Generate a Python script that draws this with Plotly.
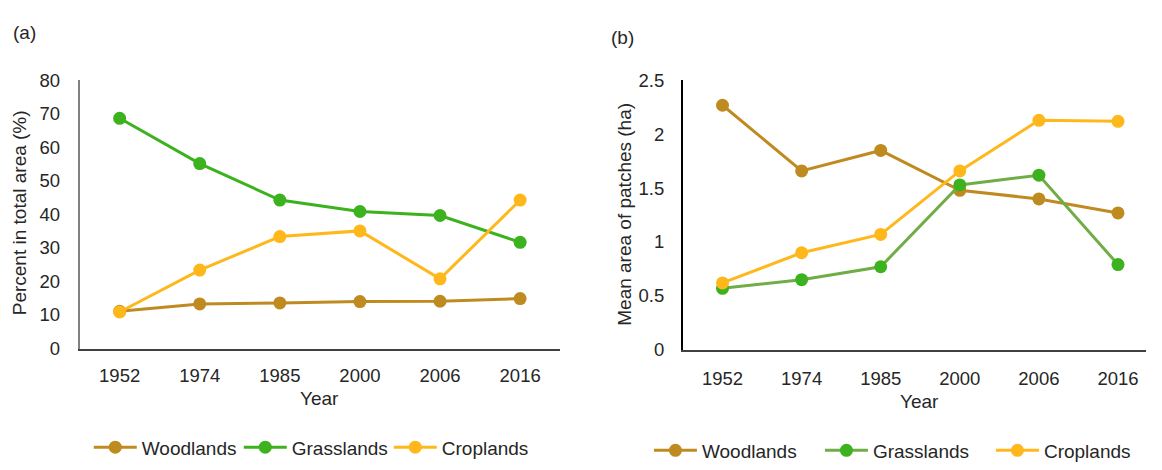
import plotly.graph_objects as go

years = ["1952", "1974", "1985", "2000", "2006", "2016"]

# Panel (a): percent in total area (%)
wood_pct = [11.1, 13.3, 13.6, 14.0, 14.1, 14.9]
grass_pct = [68.7, 55.2, 44.3, 40.9, 39.7, 31.7]
crop_pct = [10.9, 23.4, 33.4, 35.1, 20.8, 44.3]

# Panel (b): mean area of patches (ha)
wood_area = [2.27, 1.66, 1.85, 1.48, 1.40, 1.27]
grass_area = [0.57, 0.65, 0.77, 1.53, 1.62, 0.79]
crop_area = [0.62, 0.90, 1.07, 1.66, 2.13, 2.12]

left_yticks = [0, 10, 20, 30, 40, 50, 60, 70, 80]
right_yticks = [0, 0.5, 1, 1.5, 2, 2.5]
right_yticklabels = ["0", "0.5", "1", "1.5", "2", "2.5"]

C_WOOD = "#BF8B20"
C_GRASS = "#3CB21E"
C_GRASS_LINE_B = "#70AD47"
C_CROP = "#FFB81C"

W, H = 1162, 470
FONT = "Liberation Sans, Arial, sans-serif"
TXT = "#262626"

fig = go.Figure()

def add(x, y, name, lc, mc, xa, ya, leg):
    fig.add_trace(go.Scatter(
        x=x, y=y, name=name, mode="lines+markers",
        line=dict(color=lc, width=3),
        marker=dict(color=mc, size=13),
        xaxis=xa, yaxis=ya, legend=leg, showlegend=True,
    ))

add(years, wood_pct, "Woodlands", C_WOOD, C_WOOD, "x", "y", "legend")
add(years, grass_pct, "Grasslands", C_GRASS, C_GRASS, "x", "y", "legend")
add(years, crop_pct, "Croplands", C_CROP, C_CROP, "x", "y", "legend")

add(years, wood_area, "Woodlands", C_WOOD, C_WOOD, "x2", "y2", "legend2")
add(years, grass_area, "Grasslands", C_GRASS_LINE_B, C_GRASS, "x2", "y2", "legend2")
add(years, crop_area, "Croplands", C_CROP, C_CROP, "x2", "y2", "legend2")

tickfont = dict(family=FONT, size=18.5, color=TXT)

fig.update_layout(
    width=W, height=H,
    margin=dict(l=0, r=0, t=0, b=0),
    paper_bgcolor="white", plot_bgcolor="white",
    font=dict(family=FONT, color=TXT),
    xaxis=dict(domain=[80.7 / W, 568 / W], type="category", range=[-0.5, 5.5],
               showline=True, linecolor="#404040", linewidth=2, showgrid=False,
               zeroline=False, ticks="", tickfont=tickfont, ticklabelstandoff=9,
               anchor="y"),
    yaxis=dict(domain=[1 - 353.3 / H, 1 - 72.7 / H], range=[0, 80], tickvals=left_yticks,
               showline=True, linecolor="#808080", linewidth=1.5, showgrid=False,
               zeroline=False, ticks="", tickfont=tickfont, ticklabelstandoff=14,
               anchor="x"),
    xaxis2=dict(domain=[692.5 / W, 1.0], type="category", range=[-0.5, 5.354],
                showline=True, linecolor="#404040", linewidth=2, showgrid=False,
                zeroline=False, ticks="", tickfont=tickfont, ticklabelstandoff=11,
                anchor="y2"),
    yaxis2=dict(domain=[1 - 354.5 / H, 1 - 72.7 / H], range=[0, 2.5], tickvals=right_yticks,
                ticktext=right_yticklabels,
                showline=True, linecolor="#000000", linewidth=2, showgrid=False,
                zeroline=False, ticks="", tickfont=tickfont, ticklabelstandoff=13,
                anchor="x2"),
    legend=dict(orientation="h", x=90 / W, y=1 - 456.7 / H, xanchor="left", yanchor="middle",
                itemwidth=43, entrywidth=92, font=dict(family=FONT, size=19, color=TXT),
                bgcolor="rgba(0,0,0,0)", traceorder="normal"),
    legend2=dict(orientation="h", x=658 / W, y=1 - 460 / H, xanchor="left", yanchor="middle",
                 itemwidth=43, entrywidth=113, font=dict(family=FONT, size=19, color=TXT),
                 bgcolor="rgba(0,0,0,0)", traceorder="normal"),
    showlegend=True,
)

annots = [
    dict(text="(a)", x=25 / W, y=1 - 23 / H, font=dict(family=FONT, size=19, color=TXT)),
    dict(text="(b)", x=631.5 / W, y=1 - 27.5 / H, font=dict(family=FONT, size=19, color=TXT)),
    dict(text="Year", x=323.7 / W, y=1 - 405.7 / H, font=dict(family=FONT, size=19, color=TXT)),
    dict(text="Year", x=932 / W, y=1 - 409 / H, font=dict(family=FONT, size=19, color=TXT)),
    dict(text="Percent in total area (%)", x=19.5 / W, y=1 - 211.5 / H, textangle=-90,
         font=dict(family=FONT, size=19, color=TXT)),
    dict(text="Mean area of patches (ha)", x=633 / W, y=1 - 213 / H, textangle=-90,
         font=dict(family=FONT, size=19, color=TXT)),
]
for a in annots:
    fig.add_annotation(xref="paper", yref="paper", showarrow=False,
                       xanchor="center", yanchor="middle", **a)

fig.write_html("out.html",
               config={"displayModeBar": False},
               post_script="document.body.style.margin='0';document.body.style.padding='0';")
